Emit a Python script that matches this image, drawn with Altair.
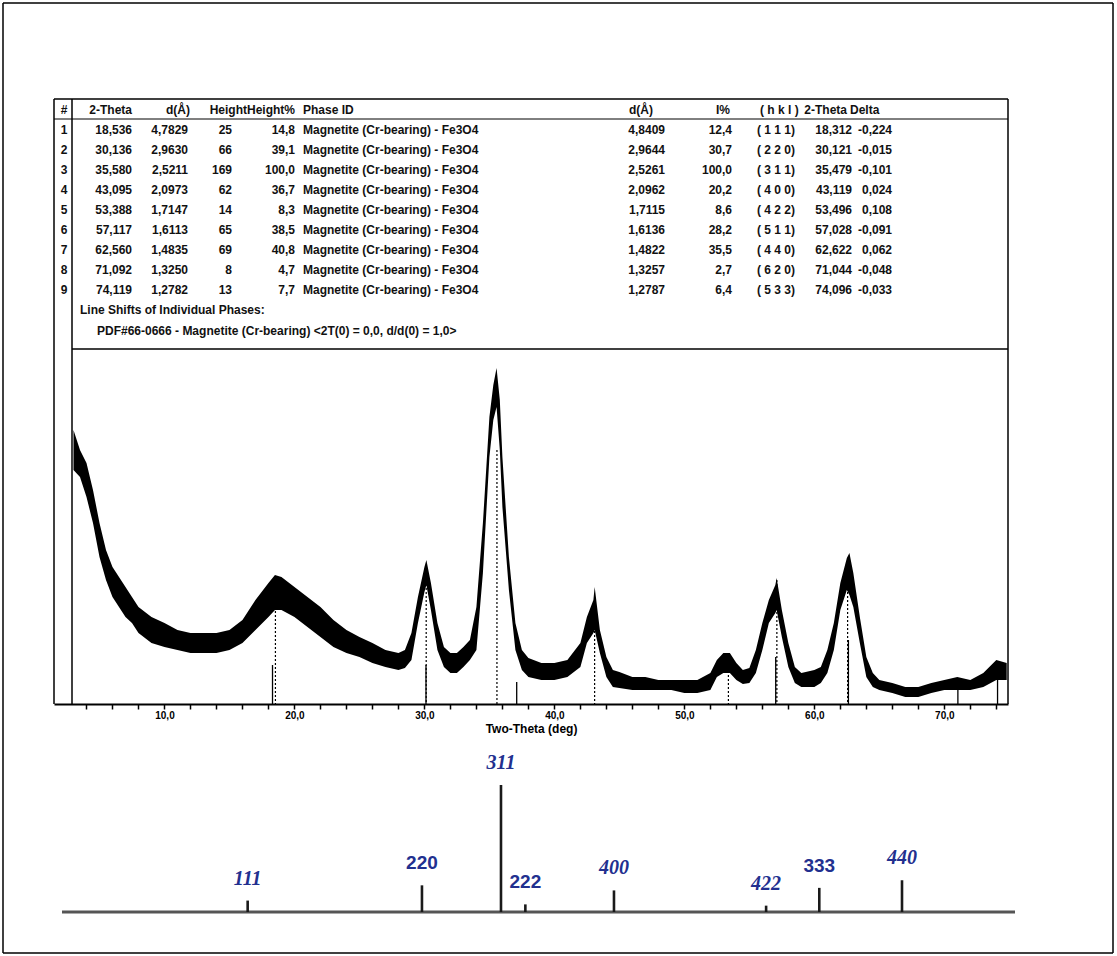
import altair as alt
import pandas as pd

# ---------------- table data ----------------
row_no = ["1", "2", "3", "4", "5", "6", "7", "8", "9"]
obs_2theta = ["18,536", "30,136", "35,580", "43,095", "53,388", "57,117", "62,560", "71,092", "74,119"]
obs_d = ["4,7829", "2,9630", "2,5211", "2,0973", "1,7147", "1,6113", "1,4835", "1,3250", "1,2782"]
peak_height = ["25", "66", "169", "62", "14", "65", "69", "8", "13"]
peak_height_pct = ["14,8", "39,1", "100,0", "36,7", "8,3", "38,5", "40,8", "4,7", "7,7"]
phase_id = ["Magnetite (Cr-bearing) - Fe3O4"] * 9
ref_d = ["4,8409", "2,9644", "2,5261", "2,0962", "1,7115", "1,6136", "1,4822", "1,3257", "1,2787"]
ref_i = ["12,4", "30,7", "100,0", "20,2", "8,6", "28,2", "35,5", "2,7", "6,4"]
ref_hkl = ["( 1 1 1)", "( 2 2 0)", "( 3 1 1)", "( 4 0 0)", "( 4 2 2)", "( 5 1 1)", "( 4 4 0)", "( 6 2 0)", "( 5 3 3)"]
ref_2theta = ["18,312", "30,121", "35,479", "43,119", "53,496", "57,028", "62,622", "71,044", "74,096"]
delta = ["-0,224", "-0,015", "-0,101", "0,024", "0,108", "-0,091", "0,062", "-0,048", "-0,033"]
header_texts = ["#", "2-Theta", "d(Å)", "HeightHeight%", "Phase ID", "d(Å)", "I%", "( h k l )", "2-Theta", "Delta"]
line_shift_title = "Line Shifts of Individual Phases:"
line_shift_text = "PDF#66-0666 - Magnetite (Cr-bearing) <2T(0) = 0,0,  d/d(0) = 1,0>"

# ---------------- XRD pattern: noise band (a.u.) ----------------
two_theta = [3.0, 3.5, 4.0, 4.5, 5.0, 5.5, 6.0, 6.5, 7.0, 7.5, 8.0, 9.0, 10, 11, 12, 13, 14, 15, 16, 17,
             18, 18.5, 19, 20, 21, 22, 23, 24, 25, 26, 27, 28, 28.5, 29, 29.5, 30.0, 30.15, 30.5, 31, 31.5,
             32, 32.5, 33, 33.5, 34, 34.5, 35, 35.3, 35.55, 35.8, 36, 36.5, 37, 37.5, 38, 39, 40, 41, 42, 42.5,
             43.0, 43.1, 43.5, 44, 44.5, 45, 46, 47, 48, 49, 50, 51, 52, 52.5, 53, 53.5, 54, 54.5, 55, 55.5,
             56, 56.5, 57, 57.1, 57.5, 58, 58.5, 59, 60, 60.5, 61, 61.5, 62, 62.5, 62.7, 63, 63.5, 64, 64.5, 65,
             66, 67, 68, 69, 70, 71, 72, 73, 74, 74.8]
band_hi = [274, 254, 241, 214, 181, 154, 137, 127, 117, 107, 97, 87, 81, 74, 71, 71, 71, 74, 84, 104,
           121, 129, 127, 117, 107, 97, 84, 74, 67, 61, 54, 51, 54, 71, 107, 137, 144, 121, 81, 57,
           51, 51, 57, 64, 97, 181, 287, 319, 336, 304, 247, 147, 81, 54, 46, 41, 41, 44, 61, 87,
           104, 117, 74, 47, 34, 32, 27, 27, 24, 24, 24, 24, 31, 44, 51, 51, 41, 34, 36, 54,
           81, 104, 119, 126, 94, 61, 37, 31, 34, 37, 54, 81, 121, 146, 151, 131, 87, 47, 31, 24,
           21, 17, 17, 21, 24, 27, 24, 31, 44, 41]
band_lo = [234, 227, 207, 181, 147, 124, 107, 97, 87, 81, 71, 61, 57, 54, 51, 51, 51, 54, 61, 74,
           87, 94, 94, 87, 77, 67, 57, 51, 47, 41, 37, 34, 36, 44, 81, 112, 119, 94, 54, 37,
           31, 31, 37, 44, 54, 131, 247, 284, 297, 254, 197, 114, 54, 34, 27, 24, 24, 27, 37, 61,
           71, 74, 51, 27, 17, 16, 14, 14, 14, 14, 11, 11, 14, 27, 31, 31, 24, 20, 21, 31,
           54, 81, 91, 94, 67, 37, 21, 17, 17, 21, 31, 54, 94, 114, 109, 97, 61, 27, 17, 14,
           11, 7, 7, 11, 14, 14, 14, 17, 24, 24]

# reference-card sticks drawn solid, and dotted line-shift markers
card_2theta = [18.312, 30.121, 37.10, 57.028, 62.622, 71.044, 74.096]
card_height = [39, 39, 22, 47, 64, 17, 31]
shift_2theta = [18.536, 30.136, 35.580, 43.095, 53.388, 57.117, 62.560]
shift_height = [97, 124, 254, 97, 41, 124, 144]

# ---------------- stick pattern below ----------------
stick_hkl = ["111", "220", "311", "222", "400", "422", "333", "440"]
stick_2theta = [18.3, 30.1, 35.45, 37.1, 43.1, 53.4, 57.0, 62.6]
stick_int = [9, 21, 100, 6, 17, 5, 19, 25]

# ---------------- layout (pixel geometry of the figure) ----------------
PL, PT, PR, PB = 54, 349, 1008, 704       # plot area (view)
W, H = PR - PL, PB - PT
FONT = "Liberation Sans"
BLUE = "#22308f"


def vx(px):
    return px - PL


def vy(py):
    return py - PT


one = pd.DataFrame({"a": [0]})


def hline(x1, x2, y, w=1.5, color="black"):
    return alt.Chart(one).mark_rule(strokeWidth=w, color=color).encode(
        x=alt.value(vx(x1)), x2=alt.value(vx(x2)), y=alt.value(vy(y)))


def vline(x, y1, y2, w=1.5, color="black"):
    return alt.Chart(one).mark_rule(strokeWidth=w, color=color).encode(
        x=alt.value(vx(x)), y=alt.value(vy(y1)), y2=alt.value(vy(y2)))


layers = []

# outer frame
layers += [hline(3, 1113, 3), hline(3, 1113, 953), vline(3, 3, 953), vline(1113, 3, 953)]
# table box
layers += [hline(PL, PR, 99), hline(PL, PR, 119, w=1), vline(PL, 99, PB), vline(PR, 99, PB),
           vline(72, 99, PB), hline(72, PR, PT)]

# ---------------- table text ----------------
row_scale = alt.Scale(domain=[-0.55, 11.95], range=[vy(99), vy(PT)], nice=False, zero=False)
rows = list(range(1, 10))
table_cols = [
    (row_no, 64, "center"), (obs_2theta, 132, "right"), (obs_d, 188, "right"),
    (peak_height, 232, "right"), (peak_height_pct, 295, "right"), (phase_id, 303, "left"),
    (ref_d, 665, "right"), (ref_i, 732, "right"), (ref_hkl, 757, "left"),
    (ref_2theta, 852, "right"), (delta, 892, "right"),
]
for values, xpx, align in table_cols:
    df = pd.DataFrame({"row": rows, "t": values})
    layers.append(alt.Chart(df).mark_text(align=align, baseline="middle", font=FONT, fontSize=12,
                                          fontWeight="bold", color="#111").encode(
        x=alt.value(vx(xpx)), y=alt.Y("row:Q", scale=row_scale, axis=None), text="t:N"))

header_pos = [(64, "center"), (132, "right"), (190, "right"), (295, "right"), (303, "left"),
              (653, "right"), (730, "right"), (760, "left"), (847, "right"), (850, "left")]
for txt, (xpx, align) in zip(header_texts, header_pos):
    df = pd.DataFrame({"row": [0], "t": [txt]})
    layers.append(alt.Chart(df).mark_text(align=align, baseline="middle", font=FONT, fontSize=12,
                                          fontWeight="bold", color="#111").encode(
        x=alt.value(vx(xpx)), y=alt.Y("row:Q", scale=row_scale, axis=None), text="t:N"))

for txt, r, xpx in [(line_shift_title, 10, 80), (line_shift_text, 11.05, 97)]:
    df = pd.DataFrame({"row": [r], "t": [txt]})
    layers.append(alt.Chart(df).mark_text(align="left", baseline="middle", font=FONT, fontSize=12,
                                          fontWeight="bold", color="#111").encode(
        x=alt.value(vx(xpx)), y=alt.Y("row:Q", scale=row_scale, axis=None), text="t:N"))

# ---------------- XRD pattern ----------------
xs = alt.Scale(domain=[1.5, 74.9], nice=False, zero=False)
ys = alt.Scale(domain=[0, H], nice=False, zero=False)
x_axis = alt.Axis(values=list(range(4, 75, 2)),
                  labelExpr="datum.value % 10 === 0 ? replace(format(datum.value, '.1f'), '.', ',') : ''",
                  title="Two-Theta (deg)", tickSize=5, tickColor="black", tickWidth=1.5,
                  domainColor="black", domainWidth=2, grid=False, labelOverlap=False,
                  labelFont=FONT, labelFontSize=10, labelFontWeight="bold", labelColor="black",
                  labelPadding=1, labelFlush=False,
                  titleFont=FONT, titleFontSize=12, titleFontWeight="bold", titleColor="black",
                  titlePadding=3)

xrd_df = pd.DataFrame({"tt": two_theta, "hi": band_hi, "lo": band_lo})
layers.append(alt.Chart(xrd_df).mark_area(color="black", interpolate="linear").encode(
    x=alt.X("tt:Q", scale=xs, axis=x_axis),
    y=alt.Y("hi:Q", scale=ys, axis=None), y2="lo:Q"))

card_df = pd.DataFrame({"tt": card_2theta, "h": card_height})
layers.append(alt.Chart(card_df).mark_rule(color="black", strokeWidth=1.3).encode(
    x=alt.X("tt:Q", scale=xs, axis=None),
    y=alt.Y("h:Q", scale=ys, axis=None), y2=alt.datum(0)))

shift_df = pd.DataFrame({"tt": shift_2theta, "h": shift_height})
layers.append(alt.Chart(shift_df).mark_rule(color="black", strokeWidth=1.2, strokeDash=[2, 2]).encode(
    x=alt.X("tt:Q", scale=xs, axis=None),
    y=alt.Y("h:Q", scale=ys, axis=None), y2=alt.datum(0)))

# ---------------- stick pattern ----------------
sx = alt.Scale(domain=[5.73, 70.25], range=[vx(62), vx(1015)], nice=False, zero=False)
sy = alt.Scale(domain=[0, 100], range=[vy(912), vy(785)], nice=False, zero=False)
layers.append(hline(62, 1015, 912, w=3, color="#555555"))
stick_df = pd.DataFrame({"tt": stick_2theta, "I": stick_int, "hkl": stick_hkl})
layers.append(alt.Chart(stick_df).mark_rule(color="#1a1a1a", strokeWidth=2.6).encode(
    x=alt.X("tt:Q", scale=sx, axis=None),
    y=alt.Y("I:Q", scale=sy, axis=None), y2=alt.datum(0)))

italic_labels = ["111", "311", "400", "422", "440"]
upright_labels = ["220", "222", "333"]
layers.append(alt.Chart(stick_df).mark_text(font="Liberation Serif", fontStyle="italic", fontWeight="bold",
                                            fontSize=20, color=BLUE, baseline="alphabetic", dy=-16).encode(
    x=alt.X("tt:Q", scale=sx, axis=None), y=alt.Y("I:Q", scale=sy, axis=None), text="hkl:N"
).transform_filter(alt.FieldOneOfPredicate(field="hkl", oneOf=italic_labels)))
layers.append(alt.Chart(stick_df).mark_text(font=FONT, fontWeight="bold", fontSize=19, color=BLUE,
                                            baseline="alphabetic", dy=-16).encode(
    x=alt.X("tt:Q", scale=sx, axis=None), y=alt.Y("I:Q", scale=sy, axis=None), text="hkl:N"
).transform_filter(alt.FieldOneOfPredicate(field="hkl", oneOf=upright_labels)))

chart = alt.layer(*layers).resolve_scale(x="independent", y="independent").properties(
    width=W, height=H,
    padding={"left": PL, "top": PT, "right": 1117 - PR, "bottom": 956 - PB},
    autosize=alt.AutoSizeParams(type="none"),
    background="white",
).configure_view(strokeWidth=0)

chart.save("out.html", embed_options={"renderer": "svg", "actions": False})
